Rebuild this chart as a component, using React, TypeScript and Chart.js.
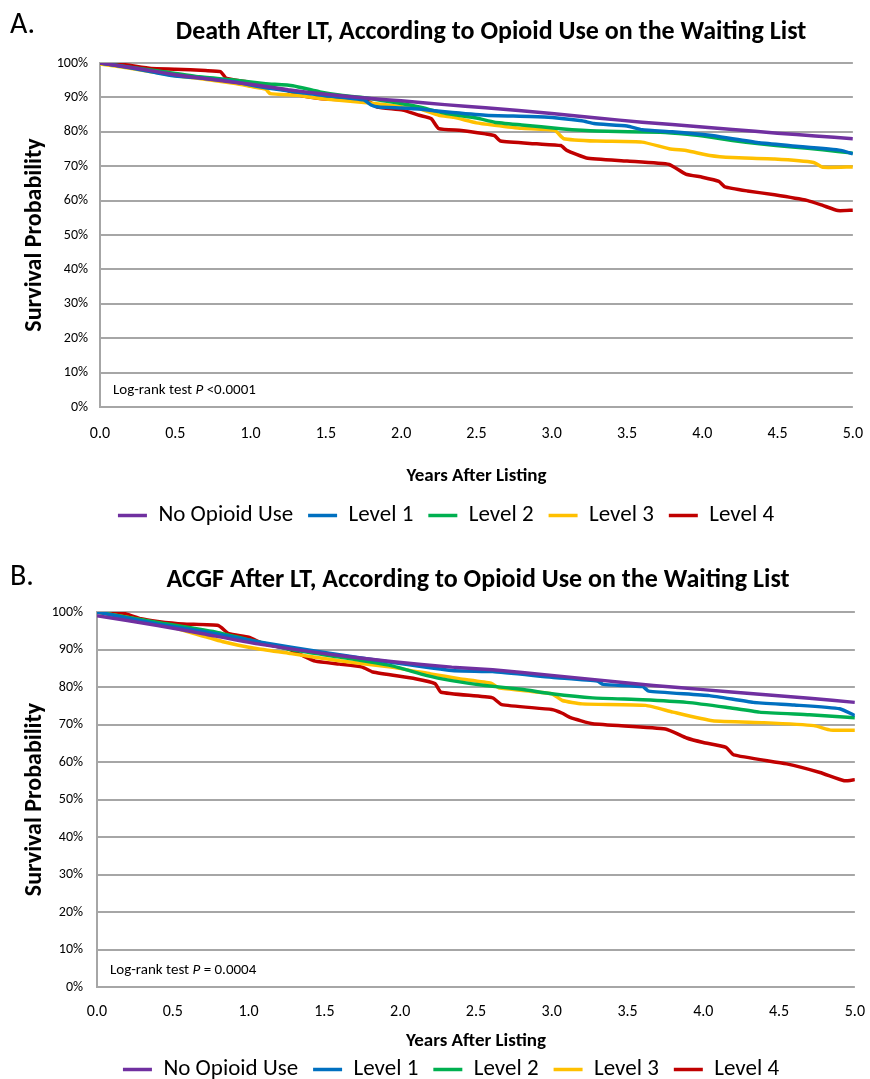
import React, { useEffect, useRef } from 'react';
import { Chart, registerables } from 'chart.js';
Chart.register(...registerables);

const FONT = 'Carlito, Lato, "Liberation Sans", sans-serif';

const seriesNames = ['No Opioid Use', 'Level 1', 'Level 2', 'Level 3', 'Level 4'];
const seriesColors = ['#7030A0', '#0070C0', '#00B050', '#FFC000', '#C00000'];
const xTickValues = [0, 0.5, 1, 1.5, 2, 2.5, 3, 3.5, 4, 4.5, 5];
const yTickValues = [0, 10, 20, 30, 40, 50, 60, 70, 80, 90, 100];

// Panel A: Death after LT  [years, survival %]
const deathNoOpioid = [[0,100],[0.25,98.4],[0.5,96.6],[0.75,95.2],[1.0,93.8],[1.25,92.2],[1.5,90.9],[1.8,89.7],[2.0,89.0],[2.29,87.9],[2.56,87.0],[3.0,85.3],[3.3,84.0],[3.6,82.8],[4.0,81.4],[4.2,80.7],[4.5,79.6],[4.75,78.8],[5.0,78.0]];
const deathLevel1 = [[0,100],[0.2,98.6],[0.36,97.3],[0.5,96.2],[0.7,95.5],[0.9,94.5],[1.0,93.6],[1.1,92.8],[1.3,91.6],[1.5,90.5],[1.75,89.3],[1.8,87.8],[1.85,87.2],[2.0,86.9],[2.12,86.6],[2.29,85.8],[2.56,84.8],[2.95,84.3],[3.2,83.2],[3.28,82.4],[3.5,81.7],[3.6,80.6],[3.8,80.0],[4.05,79.0],[4.2,78.0],[4.38,76.8],[4.6,75.9],[4.92,74.6],[5.0,73.6]];
const deathLevel2 = [[0,100],[0.2,98.8],[0.4,97.6],[0.66,96.0],[0.9,95.0],[1.1,94.0],[1.28,93.4],[1.46,91.6],[1.6,90.6],[1.79,89.7],[2.0,88.2],[2.12,87.2],[2.3,85.3],[2.5,84.0],[2.62,82.8],[2.8,82.0],[3.06,80.9],[3.3,80.2],[3.72,79.9],[3.9,79.3],[4.05,78.5],[4.2,77.5],[4.38,76.5],[4.6,75.6],[4.8,74.8],[5.0,73.8]];
const deathLevel3 = [[0,99.7],[0.2,98.5],[0.36,97.3],[0.5,96.3],[0.66,95.5],[0.9,94.0],[1.0,93.2],[1.1,92.4],[1.13,91.1],[1.31,90.6],[1.46,89.7],[1.79,88.4],[2.0,87.3],[2.12,86.7],[2.25,84.8],[2.35,84.2],[2.5,82.6],[2.62,81.9],[2.8,81.0],[3.02,80.4],[3.08,78.0],[3.3,77.3],[3.6,77.0],[3.78,75.1],[3.9,74.5],[4.05,73.1],[4.2,72.5],[4.48,72.1],[4.74,71.1],[4.8,69.7],[5.0,69.8]];
const deathLevel4 = [[0,100],[0.15,99.6],[0.34,98.4],[0.5,98.2],[0.7,97.8],[0.8,97.5],[0.84,95.5],[0.98,94.5],[1.02,93.6],[1.24,92.1],[1.33,90.6],[1.46,89.7],[1.79,88.7],[1.84,87.2],[2.01,86.3],[2.12,84.8],[2.2,83.8],[2.25,80.9],[2.4,80.4],[2.56,79.4],[2.62,78.9],[2.66,77.3],[2.9,76.5],[3.06,76.0],[3.1,74.6],[3.23,72.4],[3.5,71.5],[3.78,70.5],[3.89,67.7],[4.0,66.8],[4.11,65.6],[4.15,64.0],[4.3,62.8],[4.48,61.7],[4.7,60.0],[4.8,58.6],[4.9,57.1],[5.0,57.2]];

// Panel B: ACGF after LT  [years, survival %]
const acgfNoOpioid = [[0,99],[0.4,96.4],[0.7,94.2],[1.06,91.5],[1.5,88.9],[1.94,86.8],[2.34,85.3],[2.61,84.6],[3.0,83.1],[3.3,81.9],[3.67,80.4],[4.0,79.3],[4.33,78.2],[4.7,77.0],[5.0,75.9]];
const acgfLevel1 = [[0,100],[0.4,96.8],[0.7,94.8],[1.06,92.1],[1.5,89.2],[1.94,86.6],[2.34,84.4],[2.61,84.1],[3.0,82.6],[3.3,81.6],[3.34,80.7],[3.6,80.1],[3.64,78.9],[4.04,77.7],[4.33,75.9],[4.6,75.2],[4.9,74.2],[5.0,72.4]];
const acgfLevel2 = [[0,100],[0.4,97.2],[0.8,94.5],[1.28,90.0],[1.6,88.0],[1.94,85.7],[2.17,83.1],[2.34,81.7],[2.56,80.4],[2.8,79.4],[3.0,78.2],[3.27,77.1],[3.6,76.6],[3.89,75.9],[4.15,74.6],[4.37,73.3],[4.7,72.6],[5.0,71.8]];
const acgfLevel3 = [[0,100],[0.4,97.0],[0.84,92.0],[1.06,90.2],[1.28,88.9],[1.6,87.0],[1.94,85.3],[2.2,83.5],[2.39,82.2],[2.6,81.0],[2.65,79.8],[3.0,78.2],[3.07,76.4],[3.2,75.5],[3.62,75.1],[3.8,73.3],[4.06,71.0],[4.4,70.5],[4.73,69.7],[4.84,68.5],[5.0,68.5]];
const acgfLevel4 = [[0,100],[0.18,99.6],[0.29,98.2],[0.4,97.5],[0.57,96.8],[0.8,96.4],[0.87,94.2],[1.0,93.3],[1.1,91.5],[1.26,90.2],[1.35,88.5],[1.44,86.9],[1.6,86.1],[1.75,85.3],[1.82,84.0],[2.1,82.2],[2.23,80.9],[2.27,78.6],[2.61,77.1],[2.67,75.3],[3.0,74.0],[3.07,73.0],[3.12,71.9],[3.27,70.2],[3.75,68.8],[3.89,66.4],[4.0,65.2],[4.15,63.9],[4.2,61.9],[4.55,59.5],[4.77,57.2],[4.93,55.0],[5.0,55.3]];

const panelPlugin = {
  id: 'panelText',
  afterDraw(chart: any, _args: any, opts: any) {
    const { ctx, chartArea } = chart;
    ctx.save();
    ctx.fillStyle = '#000';
    ctx.textBaseline = 'middle';
    ctx.textAlign = 'left';
    ctx.font = `30px ${FONT}`;
    ctx.fillText(opts.letter, opts.letterX, opts.letterY);
    ctx.textAlign = 'center';
    ctx.font = `bold 26px ${FONT}`;
    ctx.fillText(opts.title, opts.titleX, opts.titleY);
    ctx.textAlign = 'left';
    let x = chartArea.left + 13;
    const y = chartArea.bottom - 17;
    const parts = [
      { t: 'Log-rank test ', it: false },
      { t: 'P', it: true },
      { t: opts.pText, it: false },
    ];
    for (const p of parts) {
      ctx.font = `${p.it ? 'italic ' : ''}15px ${FONT}`;
      ctx.fillText(p.t, x, y);
      x += ctx.measureText(p.t).width;
    }
    ctx.restore();
  },
};

type PanelCfg = {
  series: number[][][];
  letter: string;
  title: string;
  pText: string;
  titleX: number;
  titleY: number;
  letterY: number;
  padTop: number;
  padLeft: number;
  yWidth: number;
  yTickPad: number;
  yTitlePad: number;
  xHeight: number;
  xTickPad: number;
  xTitlePadBottom: number;
  legendPad: number;
  height: number;
};

function Panel({ cfg, top }: { cfg: PanelCfg; top: number }) {
  const ref = useRef<HTMLCanvasElement>(null);
  useEffect(() => {
    const canvas = ref.current!;
    const chart = new Chart(canvas, {
      type: 'line',
      data: {
        datasets: seriesNames.map((name, i) => ({
          label: name,
          data: cfg.series[i].map(([x, y]) => ({ x, y })),
          borderColor: seriesColors[i],
          backgroundColor: seriesColors[i],
          borderWidth: 3.5,
          pointRadius: 0,
          tension: 0.15,
          fill: false,
        })),
      },
      options: {
        animation: false,
        responsive: false,
        maintainAspectRatio: false,
        layout: { padding: { top: cfg.padTop, right: 20, bottom: 0, left: cfg.padLeft } },
        scales: {
          x: {
            type: 'linear',
            min: 0,
            max: 5,
            afterBuildTicks: (s: any) => { s.ticks = xTickValues.map((v) => ({ value: v })); },
            afterFit: (s: any) => { s.height = cfg.xHeight; },
            ticks: {
              callback: (v: any) => Number(v).toFixed(1),
              font: { family: FONT, size: 16 },
              color: '#000',
              padding: cfg.xTickPad,
              maxRotation: 0,
              autoSkip: false,
            },
            grid: { display: false, drawTicks: false },
            border: { display: false },
            title: {
              display: true,
              text: 'Years After Listing',
              font: { family: FONT, size: 19, weight: 'bold' },
              color: '#000',
              padding: { top: 0, bottom: cfg.xTitlePadBottom },
            },
          },
          y: {
            min: 0,
            max: 100,
            afterBuildTicks: (s: any) => { s.ticks = yTickValues.map((v) => ({ value: v })); },
            afterFit: (s: any) => { s.width = cfg.yWidth; },
            ticks: {
              callback: (v: any) => `${v}%`,
              font: { family: FONT, size: 14 },
              color: '#000',
              padding: cfg.yTickPad,
            },
            grid: { color: '#A6A6A6', lineWidth: 2, drawTicks: false },
            border: { display: true, color: '#A6A6A6', width: 2 },
            title: {
              display: true,
              text: 'Survival Probability',
              font: { family: FONT, size: 24, weight: 'bold' },
              color: '#000',
              padding: { top: cfg.yTitlePad, bottom: 0 },
            },
          },
        },
        plugins: {
          legend: {
            position: 'bottom',
            labels: {
              usePointStyle: true,
              pointStyle: 'line',
              pointStyleWidth: 29,
              font: { family: FONT, size: 23 },
              color: '#000',
              padding: cfg.legendPad,
            },
          },
          tooltip: { enabled: false },
          panelText: {
            letter: cfg.letter,
            title: cfg.title,
            pText: cfg.pText,
            titleX: cfg.titleX,
            titleY: cfg.titleY,
            letterX: 10,
            letterY: cfg.letterY,
          },
        } as any,
      },
      plugins: [panelPlugin],
    } as any);
    return () => chart.destroy();
  }, []);
  return (
    <canvas
      ref={ref}
      width={880}
      height={cfg.height}
      style={{ position: 'absolute', left: 0, top, width: 880, height: cfg.height }}
    />
  );
}

const panelA: PanelCfg = {
  series: [deathNoOpioid, deathLevel1, deathLevel2, deathLevel3, deathLevel4],
  letter: 'A.',
  title: 'Death After LT, According to Opioid Use on the Waiting List',
  pText: ' <0.0001',
  titleX: 491,
  titleY: 32,
  letterY: 25,
  padTop: 63,
  padLeft: 32,
  yWidth: 68,
  yTickPad: 12,
  yTitlePad: -11,
  xHeight: 82,
  xTickPad: 17,
  xTitlePadBottom: 1,
  legendPad: 15,
  height: 537,
};

const panelB: PanelCfg = {
  series: [acgfNoOpioid, acgfLevel1, acgfLevel2, acgfLevel3, acgfLevel4],
  letter: 'B.',
  title: 'ACGF After LT, According to Opioid Use on the Waiting List',
  pText: ' = 0.0004',
  titleX: 478,
  titleY: 35,
  letterY: 32,
  padTop: 67,
  padLeft: 42,
  yWidth: 55,
  yTickPad: 14,
  yTitlePad: -21,
  xHeight: 56,
  xTickPad: 15,
  xTitlePadBottom: -10,
  legendPad: 15,
  height: 546,
};

export default function App() {
  return (
    <div style={{ position: 'absolute', left: 0, top: 0, width: 870, height: 1079, overflow: 'hidden', background: '#fff' }}>
      <Panel cfg={panelA} top={0} />
      <Panel cfg={panelB} top={545} />
    </div>
  );
}
